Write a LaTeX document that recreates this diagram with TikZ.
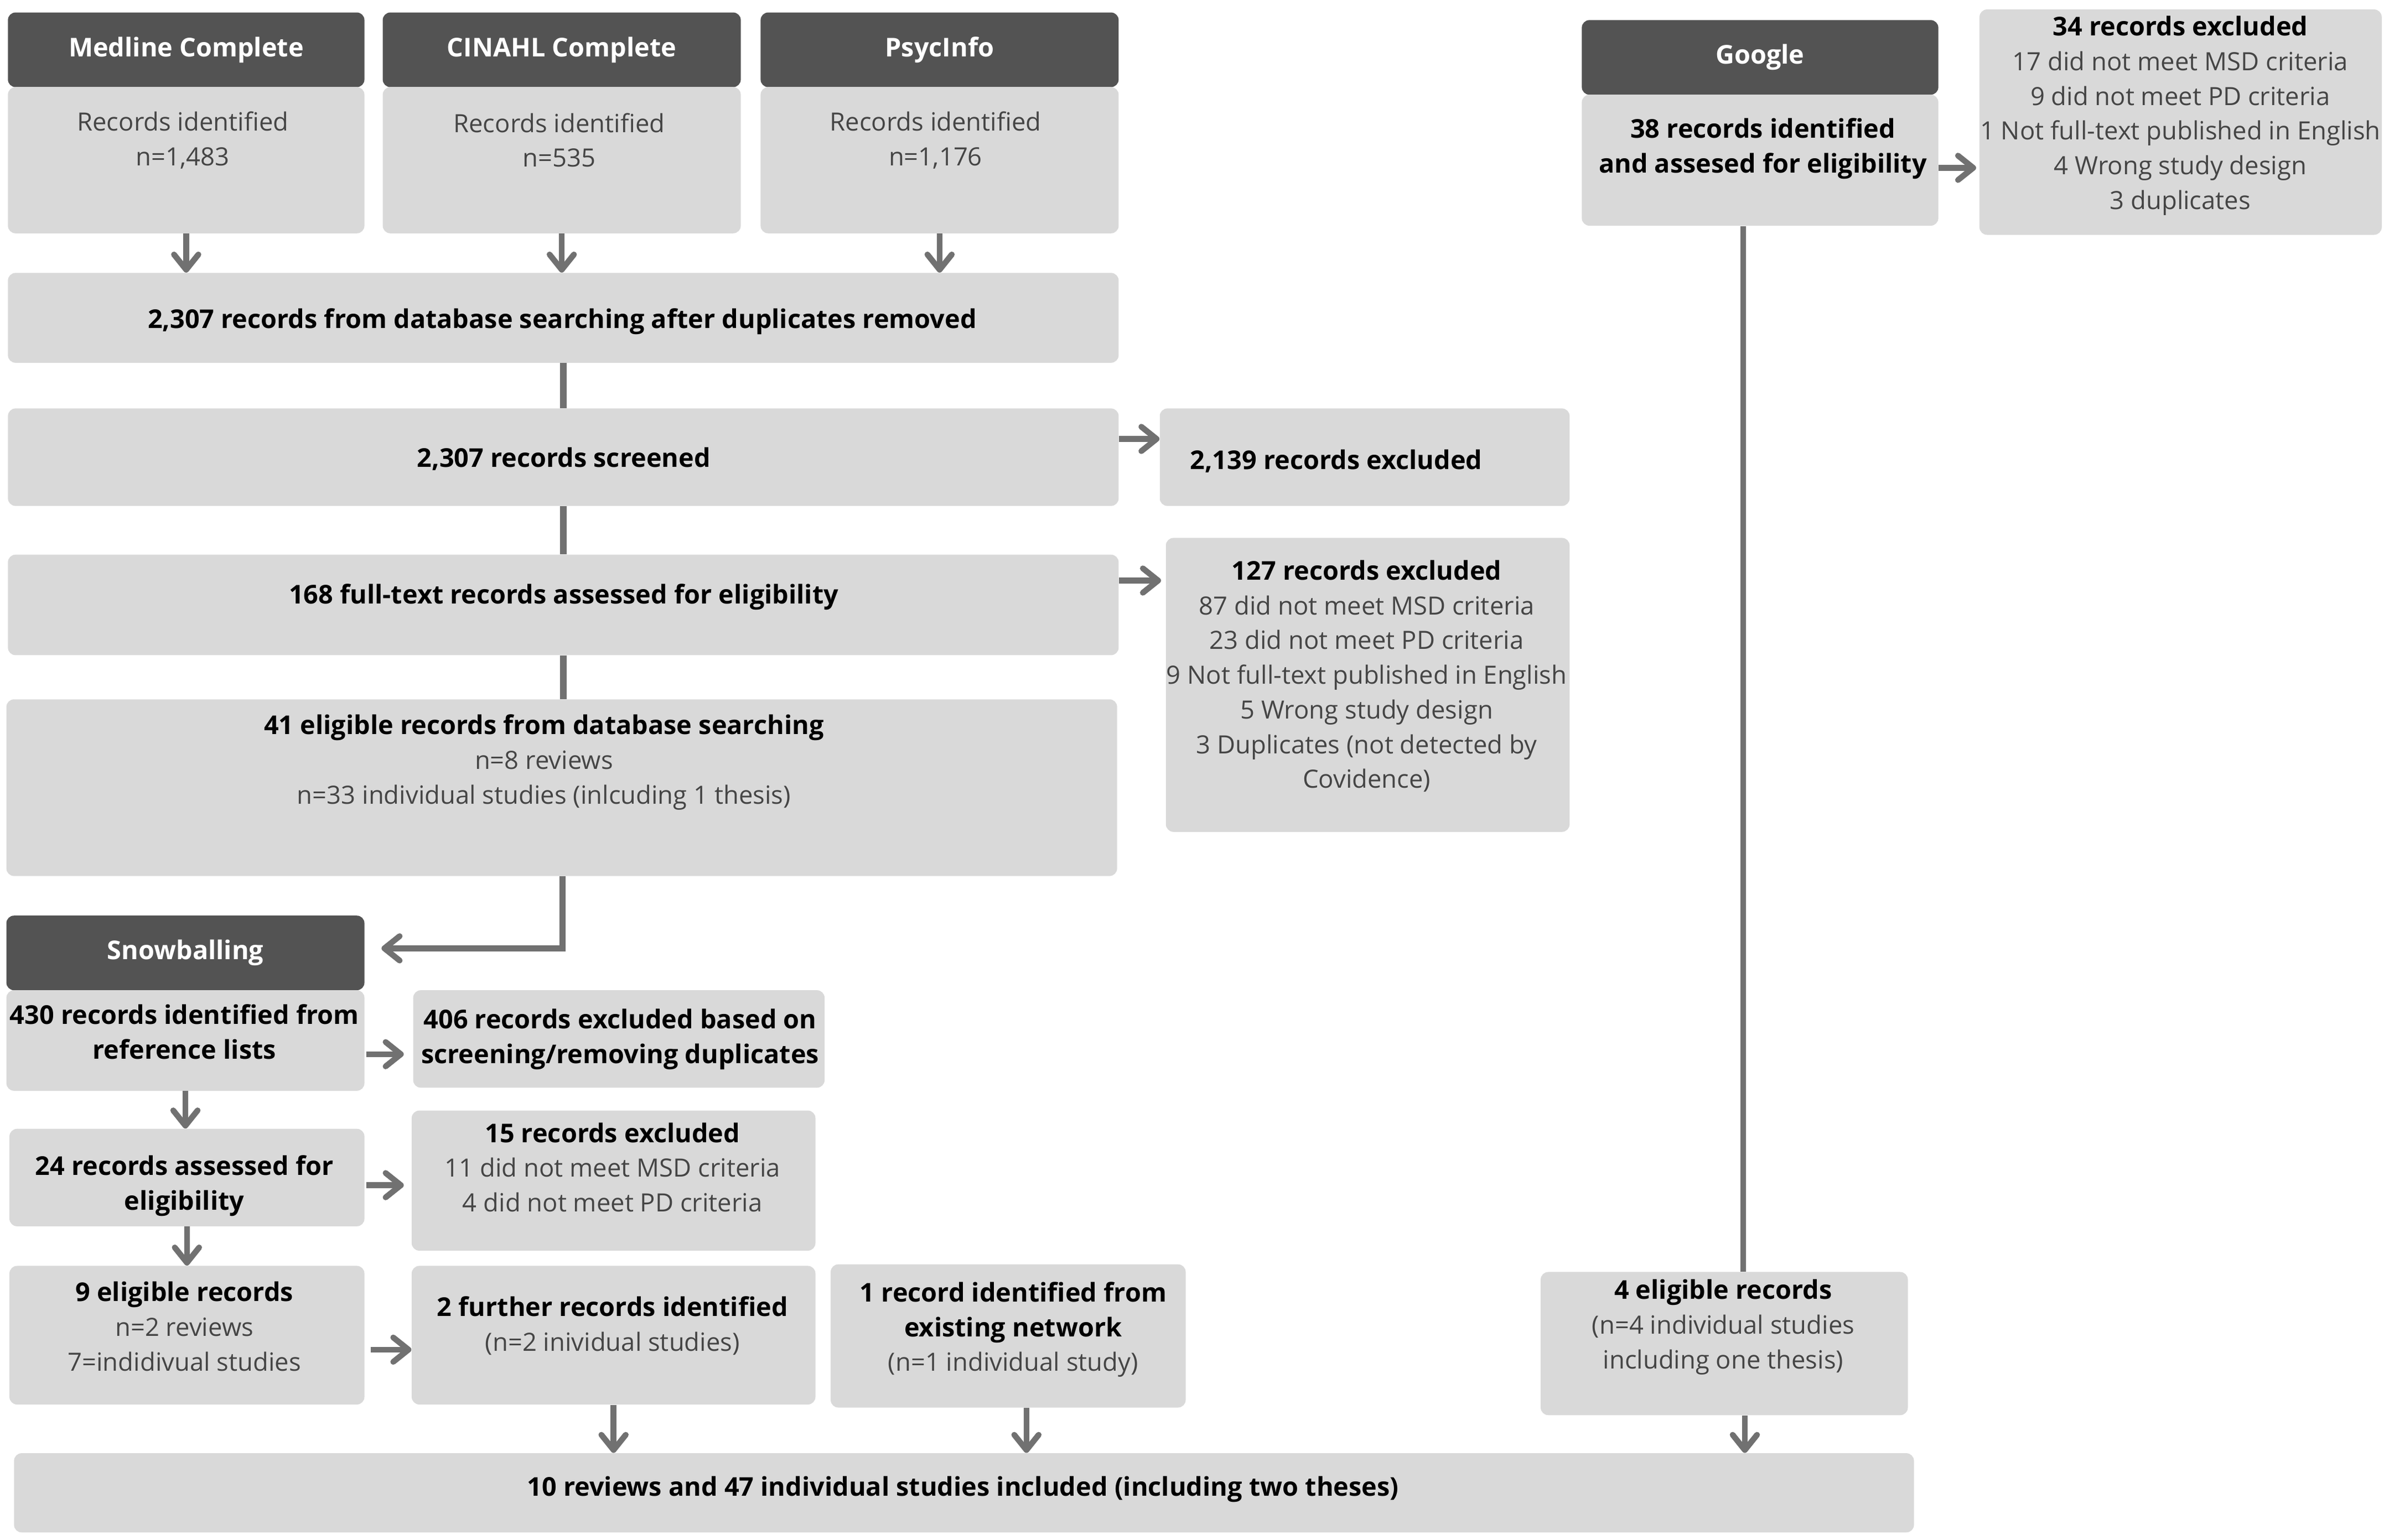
\documentclass[tikz,border=0pt]{standalone}
\usepackage{fontspec}
\setmainfont{Open Sans}
\usepackage{tikz}
\usetikzlibrary{arrows.meta,positioning,calc}
\definecolor{boxgray}{HTML}{D9D9D9}
\definecolor{headgray}{HTML}{535353}
\definecolor{arrgray}{HTML}{717171}
\definecolor{txtgray}{HTML}{454545}
\newcommand{\boldline}[1]{{\fontsize{17}{22.8}\selectfont\bfseries\color{black}#1}}

\begin{document}
\fontsize{16.5}{22.8}\selectfont
\begin{tikzpicture}[x=1pt,y=-1pt,
  >={Straight Barb[length=10pt,width=16pt,line cap=round,line join=round]},
  box/.style={fill=boxgray, rounded corners=5pt, anchor=north west, inner sep=0pt, align=center, text=txtgray},
  head/.style={box, fill=headgray, text=white, font=\fontsize{17}{22.8}\selectfont\bfseries},
  txt/.style={align=center, text=txtgray, inner sep=0pt, yshift=-2pt},
  bold/.style={font=\fontsize{17}{22.8}\selectfont\bfseries, text=black},
  link/.style={draw=arrgray, line width=4.5pt},
  arr/.style={->, draw=arrgray, line width=3.8pt}]
\useasboundingbox (0,0) rectangle (1568,1011);

\node[head, minimum width=234, minimum height=49] (medH) at (5,8) {Medline Complete};
\node[box, minimum width=234, minimum height=96] (medB) at (5,57) {};
\node[txt] (medT) at (120,90) {Records identified\\n=1,483};
\node[head, minimum width=235, minimum height=49] (cinH) at (251,8) {CINAHL Complete};
\node[box, minimum width=235, minimum height=96] (cinB) at (251,57) {};
\node[txt] (cinT) at (367,90) {Records identified\\n=535};
\node[head, minimum width=235, minimum height=49] (psyH) at (499,8) {PsycInfo};
\node[box, minimum width=235, minimum height=96] (psyB) at (499,57) {};
\node[txt] (psyT) at (614,90) {Records identified\\n=1,176};

\node[box, minimum width=729, minimum height=59] (dbB) at (5,179) {};
\node[txt, bold] (dbT) at (369,209) {2,307 records from database searching after duplicates removed};
\node[box, minimum width=729, minimum height=64] (scrB) at (5,268) {};
\node[txt, bold] (scrT) at (370,299.5) {2,307 records screened};
\node[box, minimum width=269, minimum height=64] (ex1B) at (761,268) {};
\node[txt, bold] (ex1T) at (877,301) {2,139 records excluded};
\node[box, minimum width=729, minimum height=66] (ftB) at (5,364) {};
\node[txt, bold] (ftT) at (370,390) {168 full-text records assessed for eligibility};
\node[box, minimum width=265, minimum height=193] (ex2B) at (765,353) {};
\node[txt] (ex2T) at (897,442) {\boldline{127 records excluded}\\87 did not meet MSD criteria\\23 did not meet PD criteria\\9 Not full-text published in English\\5 Wrong study design\\3 Duplicates (not detected by\\Covidence)};
\node[box, minimum width=729, minimum height=116] (el41B) at (4,459) {};
\node[txt] (el41T) at (357,498.5) {\boldline{41 eligible records from database searching}\\n=8 reviews\\n=33 individual studies (inlcuding 1 thesis)};

\node[head, minimum width=235, minimum height=49] (snowH) at (4,601) {Snowballing};
\node[box, minimum width=235, minimum height=66] (r430B) at (4,650) {};
\node[txt, bold] (r430T) at (121,675.5) {430 records identified from\\reference lists};
\node[box, minimum width=270, minimum height=64] (ex3B) at (271,650) {};
\node[txt, bold] (ex3T) at (407,680.5) {406 records excluded based on\\screening/removing duplicates};
\node[box, minimum width=233, minimum height=64] (r24B) at (6,741) {};
\node[txt, bold] (r24T) at (121,776.5) {24 records assessed for\\eligibility};
\node[box, minimum width=265, minimum height=92] (ex4B) at (270,729) {};
\node[txt] (ex4T) at (402,764.5) {\boldline{15 records excluded}\\11 did not meet MSD criteria\\4 did not meet PD criteria};
\node[box, minimum width=233, minimum height=91] (el9B) at (6,831) {};
\node[txt] (el9T) at (121,869) {\boldline{9 eligible records}\\n=2 reviews\\7=indidivual studies};
\node[box, minimum width=265, minimum height=91] (furB) at (270,831) {};
\node[txt] (furT) at (402,868.5) {\boldline{2 further records identified}\\(n=2 inividual studies)};
\node[box, minimum width=233, minimum height=94] (netB) at (545,830) {};
\node[txt] (netT) at (665,871) {\boldline{1 record identified from}\\\boldline{existing network}\\(n=1 individual study)};
\node[box, minimum width=241, minimum height=94] (el4B) at (1011,835) {};
\node[txt] (el4T) at (1131,869.5) {\boldline{4 eligible records}\\(n=4 individual studies\\including one thesis)};
\node[box, minimum width=1247, minimum height=52] (finB) at (9,954) {};
\node[txt, bold] (finT) at (632,976) {10 reviews and 47 individual studies included (including two theses)};

\node[head, minimum width=234, minimum height=49] (googH) at (1038,13) {Google};
\node[box, minimum width=234, minimum height=86] (googB) at (1038,62) {};
\node[txt, bold] (googT) at (1157,95.5) {38 records identified\\and assesed for eligibility};
\node[box, minimum width=264, minimum height=148] (ex5B) at (1299,6) {};
\node[txt] (ex5T) at (1431,74) {\boldline{34 records excluded}\\17 did not meet MSD criteria\\9 did not meet PD criteria\\1 Not full-text published in English\\4 Wrong study design\\3 duplicates};

\draw[arr] (medB.south) -- (medB.south |- dbB.north);
\draw[arr] (cinB.south) -- (cinB.south |- dbB.north);
\draw[arr] (psyB.south) -- (psyB.south |- dbB.north);
\draw[link] (dbB.south) -- (scrB.north);
\draw[link] (scrB.south) -- (ftB.north);
\draw[link] (ftB.south) -- (ftB.south |- el41B.north);
\draw[arr] ([yshift=12pt]scrB.east) -- ([yshift=12pt]scrB.east -| ex1B.west);
\draw[arr] ([yshift=16pt]ftB.east) -- ([yshift=16pt,xshift=-3pt]ftB.east -| ex2B.west);
\draw[arr] ([xshift=0.5pt]el41B.south) |- ([xshift=11pt,yshift=3pt]snowH.east);

\draw[arr] (r430B.south) -- (r430B.south |- r24B.north);
\draw[arr] (r24B.south) -- (r24B.south |- el9B.north);
\draw[arr] ([yshift=-9pt,xshift=1pt]r430B.east) -- ([yshift=-9pt,xshift=-6pt]r430B.east -| ex3B.west);
\draw[arr] ([yshift=-5pt,xshift=1pt]r24B.east) -- ([yshift=-5pt,xshift=-5pt]r24B.east -| ex4B.west);
\draw[arr] ([yshift=-9.5pt,xshift=4pt]el9B.east) -- ([yshift=-9.5pt]el9B.east -| furB.west);
\draw[arr] (furB.south) -- (furB.south |- finB.north);
\draw[arr] ([xshift=12pt]netB.south) -- ([xshift=12pt]netB.south |- finB.north);
\draw[arr] ([xshift=13.5pt]el4B.south) -- ([xshift=13.5pt]el4B.south |- finB.north);

\draw[link, line width=3.8pt] ([xshift=-11pt]googB.south) -- ([xshift=-11pt]googB.south |- el4B.north);
\draw[arr] ([yshift=-5pt]googB.east) -- ([yshift=-5pt,xshift=-2pt]googB.east -| ex5B.west);
\end{tikzpicture}
\end{document}
